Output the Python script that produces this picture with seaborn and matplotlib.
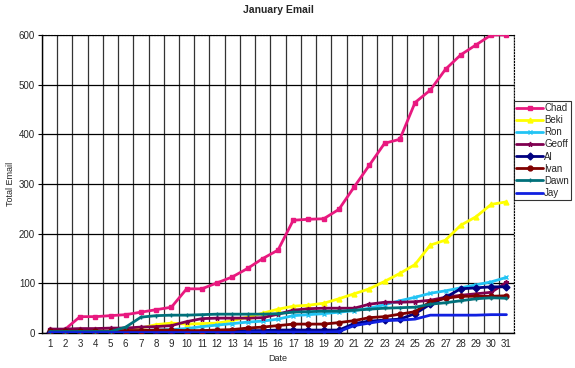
import numpy as np
import pandas as pd
import seaborn as sns
import matplotlib.pyplot as plt

# dados
days = list(range(1, 32))
chad = [7, 7, 33, 33, 35, 37, 42, 47, 52, 89, 89, 101, 113, 130, 150, 167,
        227, 229, 230, 249, 294, 338, 382, 390, 464, 489, 531, 560, 580, 600, 600]
beki = [0, 0, 2, 2, 3, 5, 10, 17, 20, 18, 19, 20, 25, 32, 40, 48,
        54, 56, 60, 69, 79, 89, 104, 120, 138, 177, 187, 217, 234, 259, 264]
ron = [2, 2, 2, 3, 3, 3, 5, 6, 7, 9, 13, 16, 19, 22, 24, 28,
       35, 37, 39, 42, 45, 50, 57, 65, 72, 80, 85, 91, 97, 103, 112]
geoff = [8, 8, 9, 9, 10, 10, 12, 13, 15, 23, 29, 30, 30, 30, 31, 38,
         46, 49, 50, 50, 50, 58, 62, 62, 63, 66, 72, 76, 79, 82, 102]
al = [2, 2, 2, 2, 2, 2, 3, 3, 3, 3, 3, 4, 4, 5, 5, 6,
      6, 6, 6, 6, 19, 24, 26, 28, 39, 58, 72, 89, 91, 93, 93]
ivan = [4, 4, 4, 4, 4, 5, 5, 6, 6, 5, 5, 6, 7, 10, 12, 15,
        18, 18, 18, 21, 25, 31, 33, 38, 43, 63, 70, 74, 74, 74, 75]
dawn = [3, 3, 3, 3, 3, 12, 32, 35, 36, 36, 37, 38, 38, 38, 38, 39,
        42, 43, 44, 44, 46, 48, 50, 51, 52, 58, 61, 65, 69, 71, 70]
jay = [1, 1, 1, 1, 1, 1, 1, 1, 1, 1, 1, 1, 1, 2, 2, 2,
       2, 2, 2, 3, 15, 20, 25, 26, 28, 36, 36, 36, 36, 37, 37]

names = ['Chad', 'Beki', 'Ron', 'Geoff', 'Al', 'Ivan', 'Dawn', 'Jay']
series = [chad, beki, ron, geoff, al, ivan, dawn, jay]
colors = ['#e8197f', '#ffff00', '#22c4f4', '#800050', '#000080', '#800000', '#00707a', '#1020e0']
markers = ['s', '^', 'x', '*', 'D', 'o', '+', None]

df = pd.DataFrame({'Date': days * len(names),
                   'Total': [v for s in series for v in s],
                   'Pessoa': [n for n in names for _ in days]})

sns.set_style('white')
plt.rcParams['font.family'] = ['Liberation Sans', 'DejaVu Sans']

fig = plt.figure(figsize=(5.75, 3.68), dpi=100)
ax = fig.add_axes([0.073, 0.095, 0.821, 0.81])

for nome, cor, mk in zip(names, colors, markers):
    sub = df[df['Pessoa'] == nome]
    sns.lineplot(data=sub, x='Date', y='Total', ax=ax, color=cor, label=nome,
                 marker=mk, markersize=3.5, markeredgecolor=cor, markeredgewidth=1,
                 linewidth=2, zorder=3)

ax.set_xlim(0.5, 31.5)
ax.set_ylim(0, 600)
ax.set_xticks(days)
ax.set_xticks(np.arange(0.5, 32, 1), minor=True)
ax.set_yticks(range(0, 601, 100))
ax.tick_params(axis='x', which='major', length=0, labelsize=7, pad=4)
ax.tick_params(axis='x', which='minor', length=3, color='black')
ax.tick_params(axis='y', length=3, labelsize=7, color='black', left=True, pad=2)
ax.grid(True, axis='y', color='black', linewidth=0.9)
ax.grid(True, axis='x', which='minor', color='#333333', linewidth=0.9)
ax.grid(False, axis='x', which='major')

for lado in ['left', 'bottom']:
    ax.spines[lado].set_color('black')
    ax.spines[lado].set_linewidth(1)
for lado in ['top', 'right']:
    ax.spines[lado].set_color('black')
    ax.spines[lado].set_linewidth(0.8)
    ax.spines[lado].set_linestyle(':')

ax.set_title('January Email', fontsize=7.5, fontweight='bold', pad=16)
ax.set_xlabel('Date', fontsize=6.5, labelpad=4)
ax.set_ylabel('Total Email', fontsize=6.5, labelpad=3)

leg = ax.legend(loc='upper left', bbox_to_anchor=(1.0, 0.78), fontsize=7,
                frameon=True, fancybox=False, edgecolor='black', borderpad=0.25,
                labelspacing=0.22, handlelength=2.7, handletextpad=0.15,
                borderaxespad=0.0)
leg.get_frame().set_linewidth(0.8)

fig.savefig('out.png', dpi=100)
